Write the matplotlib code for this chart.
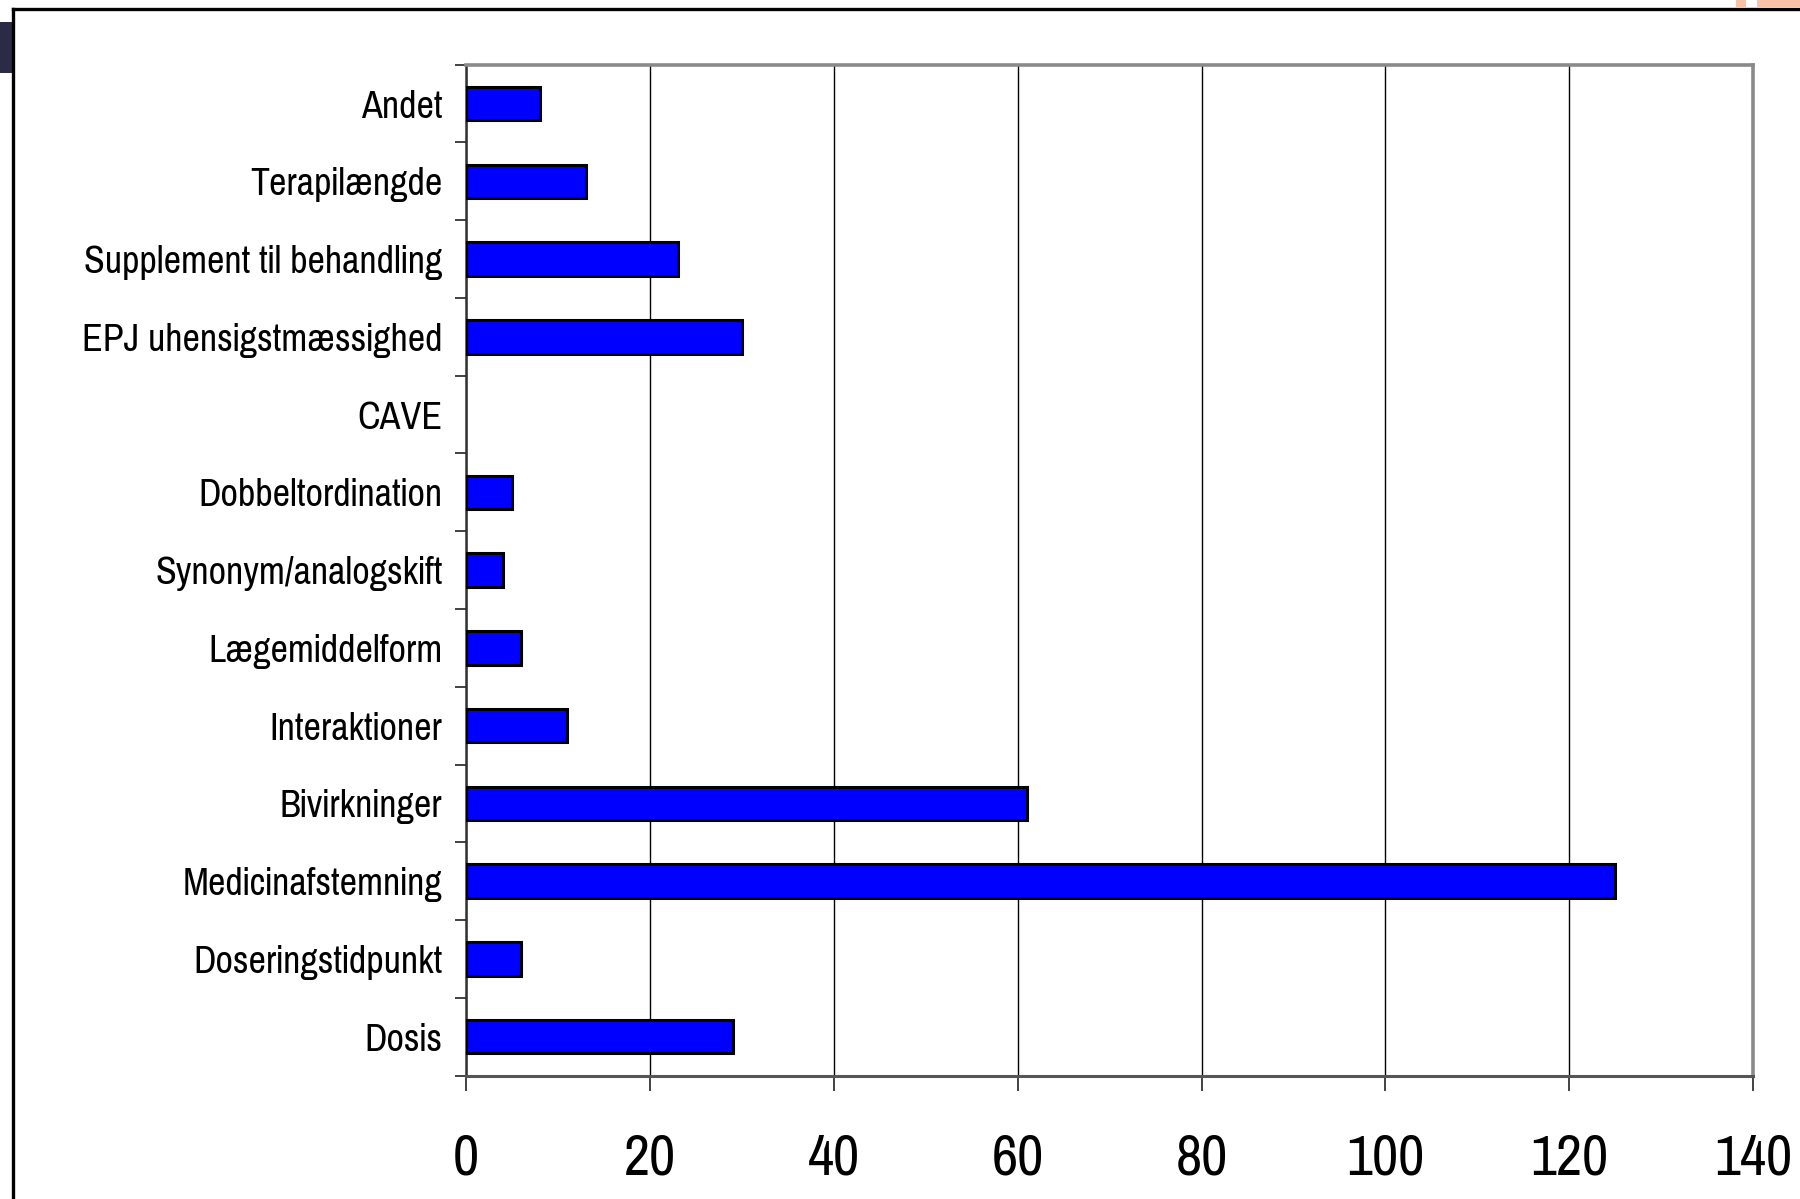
import matplotlib
matplotlib.use("Agg")
import matplotlib.pyplot as plt
from matplotlib.patches import Rectangle
from matplotlib.lines import Line2D
from matplotlib import font_manager

# Categories listed bottom to top
categories = [
    "Dosis",
    "Doseringstidpunkt",
    "Medicinafstemning",
    "Bivirkninger",
    "Interaktioner",
    "Lægemiddelform",
    "Synonym/analogskift",
    "Dobbeltordination",
    "CAVE",
    "EPJ uhensigstmæssighed",
    "Supplement til behandling",
    "Terapilængde",
    "Andet",
]
counts = [29, 6, 125, 61, 11, 6, 4, 5, 0, 30, 23, 13, 8]
x_ticks = [0, 20, 40, 60, 80, 100, 120, 140]

installed = {f.name for f in font_manager.fontManager.ttflist}
family = [f for f in ("Pragati Narrow", "Archivo Narrow", "Liberation Sans") if f in installed] + ["DejaVu Sans"]
plt.rcParams["font.family"] = family

fig = plt.figure(figsize=(18, 11.99), dpi=100)
renderer = fig.canvas.get_renderer()


def fit_size(text, target_px, base=20):
    t = fig.text(0, 0, text, fontsize=base)
    w = t.get_window_extent(renderer).width
    t.remove()
    return base * target_px / w


ylab_size = fit_size("Supplement til behandling", 359)
xlab_size = fit_size("100", 78)

ax = fig.add_axes([0.259, 0.103, 0.715, 0.843])

y = range(len(categories))
bars = ax.barh(y, counts, height=0.43, color="#0000FF", edgecolor="black", linewidth=2.2, zorder=3)
for b, v in zip(bars, counts):
    if v == 0:
        b.set_visible(False)

ax.set_xlim(0, 140)
ax.set_ylim(-0.5, len(categories) - 0.5)
ax.set_xticks(x_ticks)
ax.set_xticklabels([str(t) for t in x_ticks], fontsize=xlab_size)
ax.set_yticks(list(y))
ax.set_yticklabels(categories, fontsize=ylab_size)

# category separators as outward ticks on the left axis
ax.set_yticks([i - 0.5 for i in range(len(categories) + 1)], minor=True)
ax.tick_params(axis="y", which="major", length=0, pad=17)
ax.tick_params(axis="y", which="minor", length=8, width=1.2, color="#222222", direction="out")
ax.tick_params(axis="x", which="major", length=11, width=1.2, color="#222222", direction="out", pad=30)

ax.grid(axis="x", color="black", linewidth=1.0, zorder=1)
ax.set_axisbelow(True)

for side in ("top", "right"):
    ax.spines[side].set_color("#8a8a8a")
    ax.spines[side].set_linewidth(2.6)
ax.spines["bottom"].set_color("#555555")
ax.spines["bottom"].set_linewidth(2.2)
ax.spines["left"].set_color("#333333")
ax.spines["left"].set_linewidth(1.8)

# slide frame around the chart
fig.add_artist(Rectangle((0, 0.939), 0.007, 0.043, transform=fig.transFigure,
                         facecolor="#2b2b45", edgecolor="none"))
fig.add_artist(Line2D([0.0074, 1.0], [0.9921, 0.9921], transform=fig.transFigure,
                      color="black", linewidth=2.4))
fig.add_artist(Line2D([0.0074, 0.0074], [0.0, 0.9921], transform=fig.transFigure,
                      color="black", linewidth=2.4))
fig.add_artist(Rectangle((0.9644, 0.9942), 0.0055, 0.0058, transform=fig.transFigure,
                         facecolor="#f9c2a8", edgecolor="none"))
fig.add_artist(Rectangle((0.9761, 0.9942), 0.0239, 0.0058, transform=fig.transFigure,
                         facecolor="#f9c2a8", edgecolor="none"))

fig.savefig("out.png", dpi=100, facecolor="white")
